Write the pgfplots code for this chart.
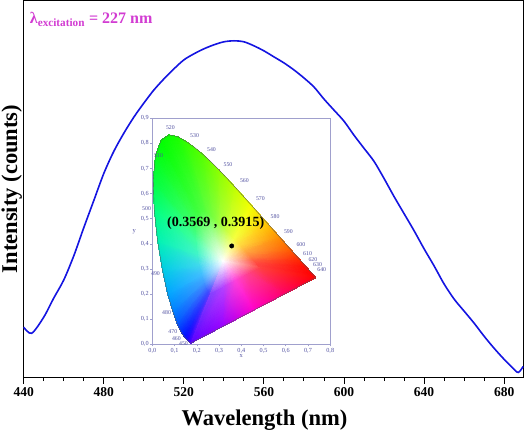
\documentclass[border=0pt]{standalone}
\usepackage{pgfplots}
\pgfplotsset{compat=1.18}
\usepackage{pgfplotstable}
\usepackage{fontspec}
\setmainfont{Liberation Serif}
\definecolor{curveblue}{RGB}{20,20,225}
\definecolor{lblmag}{RGB}{210,60,210}
\definecolor{insetframe}{RGB}{160,160,205}
\definecolor{insettext}{RGB}{80,80,160}

\pgfplotstableread{
nm I
440 50
444 44
450 60
455 79
460 97
465 121
470 149
475 176
480 203
485 225
490 243
495 259
500 273
505 286
510 297
515 307
520 316
525 322
530 327
535 331
540 334
545 335
550 334
555 330
560 325
565 319
570 313
575 306
580 298
585 289
590 277
595 266
600 255
605 241
610 228
615 215
620 198
625 180
630 163
635 146
640 128
645 111
650 93
655 78
660 66
665 54
670 41
675 29
680 18
684 10
687 5
689.5 11
}\spectrum

\pgfplotstableread{
x y
0.1741 0.0050
0.1714 0.0051
0.1644 0.0109
0.1566 0.0177
0.1440 0.0297
0.1355 0.0399
0.1241 0.0578
0.1096 0.0868
0.0913 0.1327
0.0687 0.2007
0.0454 0.2950
0.0235 0.4127
0.0082 0.5384
0.0039 0.6548
0.0139 0.7502
0.0389 0.8120
0.0743 0.8338
0.1142 0.8262
0.1547 0.8059
0.1929 0.7816
0.2296 0.7543
0.2658 0.7243
0.3016 0.6923
0.3373 0.6589
0.3731 0.6245
0.4087 0.5896
0.4441 0.5547
0.4788 0.5202
0.5125 0.4866
0.5448 0.4544
0.5752 0.4242
0.6029 0.3965
0.6270 0.3725
0.6482 0.3514
0.6658 0.3340
0.6915 0.3083
0.7079 0.2920
0.7190 0.2809
0.7260 0.2740
0.7347 0.2653
0.1741 0.0050
}\locus

\begin{document}
\begin{tikzpicture}
\begin{axis}[
  scale only axis, width=497bp, height=375bp,
  xmin=440, xmax=689.5, ymin=0, ymax=375,
  xtick={440,480,...,680}, minor x tick num=3,
  ytick=\empty,
  xtick pos=bottom, tick align=outside,
  major tick length=6bp, minor tick length=3.5bp,
  axis line style={line width=1.2bp},
  every tick/.style={black, line width=1bp},
  xticklabel style={font=\bfseries\fontsize{13.5}{14}\selectfont},
  /pgf/number format/assume math mode=true,
  xlabel={Wavelength (nm)}, ylabel={Intensity (counts)},
  label style={font=\bfseries\fontsize{22.5}{24}\selectfont},
  xlabel style={at={(axis description cs:0.482,0)}, anchor=base, yshift=-48bp},
  ylabel style={at={(axis description cs:0,0.5)}, anchor=south, inner sep=1.5bp},
  clip=false,
]
\addplot[curveblue, line width=1.6bp, smooth, tension=0.5] table[x=nm, y=I] {\spectrum};
\node[anchor=base west, inner sep=0pt, text=lblmag, font=\bfseries\fontsize{16}{16}\selectfont] at (axis cs:443,352) {λ\textsubscript{excitation} = 227 nm};
\end{axis}

\begin{axis}[
  at={(128bp,33bp)}, anchor=south west,
  scale only axis, width=177bp, height=225bp,
  xmin=0, xmax=0.8, ymin=0, ymax=0.9,
  xtick={0,0.1,0.2,0.3,0.4,0.5,0.6,0.7,0.8},
  ytick={0,0.1,0.2,0.3,0.4,0.5,0.6,0.7,0.8,0.9},
  axis line style={insetframe, line width=0.8bp},
  tick style={insetframe, line width=0.6bp},
  tick align=outside, major tick length=2bp,
  xtick pos=bottom, ytick pos=left,
  ticklabel style={font=\fontsize{6.2}{7}\selectfont, text=insettext, inner sep=1.5bp},
  /pgf/number format/use comma, /pgf/number format/fixed,
  /pgf/number format/fixed zerofill, /pgf/number format/precision=1,
  /pgf/number format/assume math mode=true,
  xlabel={x}, ylabel={y},
  label style={font=\fontsize{6.5}{7}\selectfont, text=insettext},
  xlabel style={yshift=4bp},
  ylabel style={rotate=-90},
  axis background/.style={fill=white},
  clip=false,
]
\addplot[patch, shader=interp, mesh/color input=explicit, point meta=explicit symbolic,
  table/row sep=\\,
  patch table={
0 1 2\\ 1 31 32\\ 1 32 2\\
0 2 3\\ 2 32 33\\ 2 33 3\\
0 3 4\\ 3 33 34\\ 3 34 4\\
0 4 5\\ 4 34 35\\ 4 35 5\\
0 5 6\\ 5 35 36\\ 5 36 6\\
0 6 7\\ 6 36 37\\ 6 37 7\\
0 7 8\\ 7 37 38\\ 7 38 8\\
0 8 9\\ 8 38 39\\ 8 39 9\\
0 9 10\\ 9 39 40\\ 9 40 10\\
0 10 11\\ 10 40 41\\ 10 41 11\\
0 11 12\\ 11 41 42\\ 11 42 12\\
0 12 13\\ 12 42 43\\ 12 43 13\\
0 13 14\\ 13 43 44\\ 13 44 14\\
0 14 15\\ 14 44 45\\ 14 45 15\\
0 15 16\\ 15 45 46\\ 15 46 16\\
0 16 17\\ 16 46 47\\ 16 47 17\\
0 17 18\\ 17 47 48\\ 17 48 18\\
0 18 19\\ 18 48 49\\ 18 49 19\\
0 19 20\\ 19 49 50\\ 19 50 20\\
0 20 21\\ 20 50 51\\ 20 51 21\\
0 21 22\\ 21 51 52\\ 21 52 22\\
0 22 23\\ 22 52 53\\ 22 53 23\\
0 23 24\\ 23 53 54\\ 23 54 24\\
0 24 25\\ 24 54 55\\ 24 55 25\\
0 25 26\\ 25 55 56\\ 25 56 26\\
0 26 27\\ 26 56 57\\ 26 57 27\\
0 27 28\\ 27 57 58\\ 27 58 28\\
0 28 29\\ 28 58 59\\ 28 59 29\\
0 29 30\\ 29 59 60\\ 29 60 30\\
0 30 1\\ 30 60 31\\ 30 31 1\\
  }] table[meta=c] {
x y c\\
0.32 0.33 rgb=1,1,1\\
0.2616 0.2000 rgb=0.51,0.25,1\\
0.2546 0.2051 rgb=0.33,0.25,1\\
0.2496 0.2099 rgb=0.25,0.29,1\\
0.2416 0.2211 rgb=0.25,0.40,1\\
0.2358 0.2327 rgb=0.25,0.51,1\\
0.2285 0.2511 rgb=0.25,0.63,1\\
0.2195 0.2783 rgb=0.25,0.74,1\\
0.2102 0.3160 rgb=0.25,0.85,0.93\\
0.2014 0.3631 rgb=0.25,0.96,0.78\\
0.1953 0.4134 rgb=0.25,1,0.63\\
0.1936 0.4599 rgb=0.25,1,0.44\\
0.1976 0.4981 rgb=0.25,1,0.33\\
0.2076 0.5228 rgb=0.25,1,0.25\\
0.2217 0.5315 rgb=0.29,1,0.25\\
0.2377 0.5285 rgb=0.33,1,0.25\\
0.2539 0.5204 rgb=0.40,1,0.25\\
0.2838 0.4997 rgb=0.51,1,0.25\\
0.3126 0.4749 rgb=0.66,1,0.25\\
0.3412 0.4478 rgb=0.81,1,0.25\\
0.3696 0.4199 rgb=0.96,1,0.25\\
0.3970 0.3926 rgb=1,0.85,0.25\\
0.4221 0.3677 rgb=1,0.66,0.25\\
0.4428 0.3470 rgb=1,0.51,0.25\\
0.4583 0.3316 rgb=1,0.36,0.25\\
0.4686 0.3213 rgb=1,0.29,0.25\\
0.4796 0.3104 rgb=1,0.25,0.25\\
0.4859 0.3041 rgb=1,0.25,0.25\\
0.4298 0.2781 rgb=1,0.25,0.55\\
0.3738 0.2521 rgb=1,0.25,0.85\\
0.3177 0.2260 rgb=0.70,0.25,1\\
0.1741 0.0050 rgb=0.35,0,1\\
0.1566 0.0177 rgb=0.1,0,1\\
0.1440 0.0297 rgb=0,0.05,1\\
0.1241 0.0578 rgb=0,0.2,1\\
0.1096 0.0868 rgb=0,0.35,1\\
0.0913 0.1327 rgb=0,0.5,1\\
0.0687 0.2007 rgb=0,0.65,1\\
0.0454 0.2950 rgb=0,0.8,0.9\\
0.0235 0.4127 rgb=0,0.95,0.7\\
0.0082 0.5384 rgb=0,1,0.5\\
0.0039 0.6548 rgb=0,1,0.25\\
0.0139 0.7502 rgb=0,1,0.1\\
0.0389 0.8120 rgb=0,1,0\\
0.0743 0.8338 rgb=0.05,1,0\\
0.1142 0.8262 rgb=0.1,1,0\\
0.1547 0.8059 rgb=0.2,1,0\\
0.2296 0.7543 rgb=0.35,1,0\\
0.3016 0.6923 rgb=0.55,1,0\\
0.3731 0.6245 rgb=0.75,1,0\\
0.4441 0.5547 rgb=0.95,1,0\\
0.5125 0.4866 rgb=1,0.8,0\\
0.5752 0.4242 rgb=1,0.55,0\\
0.6270 0.3725 rgb=1,0.35,0\\
0.6658 0.3340 rgb=1,0.15,0\\
0.6915 0.3083 rgb=1,0.05,0\\
0.7190 0.2809 rgb=1,0,0\\
0.7347 0.2653 rgb=1,0,0\\
0.5946 0.2002 rgb=1,0,0.4\\
0.4544 0.1352 rgb=1,0,0.8\\
0.3143 0.0701 rgb=0.6,0,1\\
};
\addplot[gray!70!black, line width=0.4bp] table[x=x, y=y] {\locus};
\addplot[only marks, mark=*, mark size=2.2bp, black] coordinates {(0.3569,0.3915)};
\node[font=\bfseries\fontsize{14}{14}\selectfont] at (axis cs:0.285,0.484) {(0.3569 , 0.3915)};
\begin{scope}[every node/.style={font=\fontsize{5.8}{6}\selectfont, text=insettext, inner sep=0pt}]
\node at (axis cs:0.081,0.862) {520};
\node at (axis cs:0.190,0.830) {530};
\node at (axis cs:0.266,0.776) {540};
\node at (axis cs:0.340,0.716) {550};
\node at (axis cs:0.414,0.652) {560};
\node at (axis cs:0.486,0.580) {570};
\node at (axis cs:0.552,0.510) {580};
\node at (axis cs:0.612,0.450) {590};
\node at (axis cs:0.668,0.396) {600};
\node at (axis cs:0.698,0.360) {610};
\node at (axis cs:0.722,0.339) {620};
\node at (axis cs:0.743,0.318) {630};
\node at (axis cs:0.762,0.297) {640};
\node at (axis cs:0.028,0.750) {510};
\node at (axis cs:-0.026,0.541) {500};
\node at (axis cs:0.014,0.283) {490};
\node at (axis cs:0.064,0.125) {480};
\node at (axis cs:0.092,0.049) {470};
\node at (axis cs:0.108,0.024) {460};
\node at (axis cs:0.140,0.002) {450};
\end{scope}
\end{axis}
\end{tikzpicture}
\end{document}
